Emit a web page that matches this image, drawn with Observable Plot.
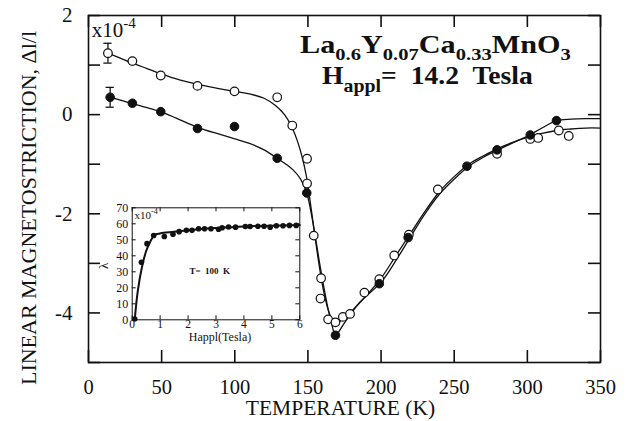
<!DOCTYPE html>
<html><head><meta charset="utf-8">
<script src="https://cdn.jsdelivr.net/npm/d3@7"></script>
<script src="https://cdn.jsdelivr.net/npm/@observablehq/plot@0.6"></script>
<style>
body{margin:0;background:#fff}
#wrap{position:relative;width:629px;height:421px;overflow:hidden}
#wrap svg{font-family:"Liberation Serif","Times New Roman",serif}
#insetbox{position:absolute;left:95px;top:197px}
</style></head><body><div id="wrap"><div id="insetbox"></div></div>
<script>
// ---------- data ----------
const xTicks = [0, 50, 100, 150, 200, 250, 300, 350];
const yTicks = [-5, -4, -3, -2, -1, 0, 1, 2];
const yLabels = [-4, -2, 0, 2];

const openT = [13.3, 30, 49.4, 74.5, 99.8, 129, 139.3, 149.4, 149.4, 154, 159, 158.6, 163.8, 168.8, 173.9, 178.8, 188.6, 198.8, 209, 219, 238.8, 279.3, 302, 307.4, 321.5, 328.3];
const openV = [1.24, 1.08, 0.79, 0.58, 0.47, 0.35, -0.22, -0.89, -1.39, -2.44, -3.30, -3.71, -4.13, -4.19, -4.08, -4.02, -3.59, -3.32, -2.84, -2.42, -1.51, -0.79, -0.49, -0.47, -0.32, -0.43];

const filledT = [14.8, 30, 49.4, 74.5, 99.8, 129, 149.2, 168.8, 198.8, 218.5, 258.7, 279.3, 302, 319.9];
const filledV = [0.35, 0.23, 0.06, -0.28, -0.24, -0.88, -1.58, -4.45, -3.41, -2.48, -1.04, -0.71, -0.41, -0.12];

const openCurveT = [13.3, 20, 30, 40, 50, 60, 75, 90, 100, 110, 120, 128, 134, 139, 143, 146, 149, 152, 155, 158, 161, 164, 167, 170, 175, 182, 190, 200, 210, 220, 230, 240, 250, 260, 270, 280, 290, 300, 310, 320, 330, 340, 350];
const openCurveV = [1.24, 1.16, 1.04, 0.93, 0.82, 0.72, 0.61, 0.52, 0.47, 0.42, 0.33, 0.18, 0.0, -0.25, -0.55, -0.85, -1.25, -1.85, -2.5, -3.1, -3.6, -3.95, -4.15, -4.2, -4.1, -3.9, -3.65, -3.3, -2.85, -2.4, -1.95, -1.55, -1.25, -1.0, -0.83, -0.68, -0.56, -0.46, -0.38, -0.32, -0.29, -0.27, -0.27];

const filledCurveT = [14.8, 20, 30, 40, 50, 60, 75, 90, 100, 110, 120, 129, 135, 140, 145, 149.2, 152, 155, 158, 161, 164, 166.5, 168.8, 175, 185, 200, 210, 220, 230, 240, 250, 260, 270, 280, 290, 300, 310, 320, 330, 340, 350];
const filledCurveV = [0.35, 0.31, 0.22, 0.14, 0.05, -0.07, -0.26, -0.4, -0.49, -0.58, -0.71, -0.88, -1.0, -1.12, -1.3, -1.58, -1.95, -2.45, -3.0, -3.5, -3.95, -4.25, -4.45, -4.2, -3.8, -3.38, -2.95, -2.47, -2.0, -1.6, -1.3, -1.04, -0.86, -0.71, -0.57, -0.43, -0.27, -0.12, -0.09, -0.08, -0.08];

const errT = [13.3, 14.8];
const errV = [1.24, 0.35];
const errE = [0.2, 0.2];

// inset: lambda vs applied field at T = 100 K
const insetXTicks = [0, 1, 2, 3, 4, 5, 6];
const insetYTicks = [0, 10, 20, 30, 40, 50, 60, 70];
const insetH = [0.09, 0.33, 0.53, 0.77, 1.15, 1.46, 1.68, 1.94, 2.14, 2.38, 2.59, 2.82, 3.09, 3.22, 3.45, 3.70, 4.05, 4.22, 4.50, 4.72, 4.94, 5.16, 5.40, 5.63, 5.87];
const insetL = [0.5, 36, 47.6, 52.7, 52.1, 53.5, 55.1, 55.9, 55.9, 56.9, 56.9, 56.9, 56.6, 57.5, 58.0, 57.9, 58.3, 58.3, 58.5, 58.5, 57.9, 58.8, 58.8, 59.0, 59.0];
const insetCurveH = [0.09, 0.2, 0.35, 0.5, 0.65, 0.8, 1.0, 1.5, 2.0, 3.0, 4.0, 5.0, 6.0];
const insetCurveL = [0, 18, 33, 43, 49, 53, 54, 55, 56, 57.3, 58.3, 58.8, 59.3];

// ---------- build tables ----------
const zip = (a, b) => a.map((v, i) => ({x: v, y: b[i]}));
const openPts = zip(openT, openV), filledPts = zip(filledT, filledV);
const openCurve = zip(openCurveT, openCurveV), filledCurve = zip(filledCurveT, filledCurveV);
const errs = errT.map((t, i) => ({x: t, lo: errV[i] - errE[i], hi: errV[i] + errE[i]}));
const insetPts = zip(insetH, insetL), insetCurve = zip(insetCurveH, insetCurveL);
const hy = d => d < 0 ? "-" + (-d) : String(d);

const W = 629, H = 421, ML = 88, MR = 29, MT = 15, MB = 59;
const FW = W - ML - MR, FH = H - MT - MB, TK = 12;

const main = Plot.plot({
  width: W, height: H,
  marginTop: MT, marginLeft: ML, marginRight: MR, marginBottom: MB,
  x: {domain: [0, 350], axis: null},
  y: {domain: [-5, 2], axis: null},
  style: {fontFamily: "Liberation Serif, serif", fontSize: "21px", color: "#111", background: "white"},
  marks: [
    Plot.frame({stroke: "#111", strokeWidth: 1.6}),
    Plot.tickX(xTicks, {x: d => d, insetTop: FH - TK, stroke: "#111", strokeWidth: 1.6}),
    Plot.tickX(xTicks, {x: d => d, insetBottom: FH - TK, stroke: "#111", strokeWidth: 1.6}),
    Plot.tickY(yTicks, {y: d => d, insetRight: FW - TK, stroke: "#111", strokeWidth: 1.6}),
    Plot.tickY(yTicks, {y: d => d, insetLeft: FW - TK, stroke: "#111", strokeWidth: 1.6}),
    Plot.text(xTicks, {x: d => d, frameAnchor: "bottom", lineAnchor: "top", dy: 17, text: d => String(d), fontSize: 20.5, fill: "#111"}),
    Plot.text(yLabels, {y: d => d, frameAnchor: "left", textAnchor: "end", dx: -16, text: hy, fontSize: 21, fill: "#111"}),
    Plot.line(openCurve, {x: "x", y: "y", curve: "catmull-rom", stroke: "#111", strokeWidth: 1.3}),
    Plot.line(filledCurve, {x: "x", y: "y", curve: "catmull-rom", stroke: "#111", strokeWidth: 1.3}),
    Plot.ruleX(errs, {x: "x", y1: "lo", y2: "hi", stroke: "#111", strokeWidth: 1.3}),
    Plot.ruleY(errs, {y: "lo", x1: d => d.x - 2.8, x2: d => d.x + 2.8, stroke: "#111", strokeWidth: 1.3}),
    Plot.ruleY(errs, {y: "hi", x1: d => d.x - 2.8, x2: d => d.x + 2.8, stroke: "#111", strokeWidth: 1.3}),
    Plot.dot(openPts, {x: "x", y: "y", r: 4.3, fill: "white", stroke: "#111", strokeWidth: 1.2}),
    Plot.dot(filledPts, {x: "x", y: "y", r: 4.3, fill: "#111", stroke: "#111", strokeWidth: 1}),
    Plot.text(["TEMPERATURE (K)"], {frameAnchor: "bottom", lineAnchor: "middle", textAnchor: "middle", dy: 46, dx: -4, fontSize: 21.5, fill: "#111"}),
    Plot.text(["LINEAR MAGNETOSTRICTION, \u0394l/l"], {frameAnchor: "left", lineAnchor: "middle", textAnchor: "middle", rotate: -90, dx: -60, dy: 19, fontSize: 22, fill: "#111"})
  ]
});
document.getElementById("wrap").prepend(main);

// rich-text annotations (sub/superscripts) positioned through the plot's scales
function rich(target, parts, cx, by, big, small, shift, anchor, weight, width) {
  const t = target.append("text")
    .attr("font-family", "Liberation Serif, serif")
    .attr("font-weight", weight).attr("fill", "#111")
    .attr("text-anchor", anchor)
    .style("white-space", "pre");
  let cur = 0;
  for (const [s, kind] of parts) {
    const want = kind === 0 ? 0 : kind * shift;
    t.append("tspan").attr("font-size", kind === 0 ? big : small).attr("dy", want - cur).text(s);
    cur = want;
  }
  let k = 1;
  if (width) { const len = t.node().getComputedTextLength(); if (len > 0) k = width / len; }
  t.attr("transform", `translate(${cx},${by}) scale(${k},1)`);
  return t;
}
const sx = main.scale("x"), sy = main.scale("y");
const svg = d3.select(main);
const line1 = [["La",0],["0.6",1],["Y",0],["0.07",1],["Ca",0],["0.33",1],["MnO",0],["3",1]];
const line2 = [["H",0],["appl",1],["=  14.2  Tesla",0]];
rich(svg, line1, sx.apply(237.5), sy.apply(1.23), 25, 17, 7, "middle", "bold", 271);
rich(svg, line2, sx.apply(232), sy.apply(0.61), 25, 18, 8, "middle", "bold", 211);
rich(svg, [["x10",0],["-4",-1]], sx.apply(2.5), sy.apply(1.55), 21, 15, 9, "start", "normal", 0);

// ---------- inset ----------
const IW = 210, IH = 152, IML = 36.7, IMR = 5.7, IMT = 10.3, IMB = 29.7;
const IFW = IW - IML - IMR, IFH = IH - IMT - IMB, ITK = 4;
const inset = Plot.plot({
  width: IW, height: IH,
  marginLeft: IML, marginRight: IMR, marginTop: IMT, marginBottom: IMB,
  x: {domain: [0, 6], axis: null},
  y: {domain: [0, 70], axis: null},
  style: {fontFamily: "Liberation Serif, serif", fontSize: "11px", color: "#111", background: "transparent"},
  marks: [
    Plot.frame({stroke: "#111", strokeWidth: 1}),
    Plot.tickX(insetXTicks, {x: d => d, insetTop: IFH - ITK, stroke: "#111"}),
    Plot.tickX(insetXTicks, {x: d => d, insetBottom: IFH - ITK, stroke: "#111"}),
    Plot.tickY(insetYTicks, {y: d => d, insetRight: IFW - ITK, stroke: "#111"}),
    Plot.tickY(insetYTicks, {y: d => d, insetLeft: IFW - ITK, stroke: "#111"}),
    Plot.text(insetXTicks, {x: d => d, frameAnchor: "bottom", lineAnchor: "top", dy: 0, text: d => String(d), fontSize: 11.5, fill: "#111"}),
    Plot.text(insetYTicks, {y: d => d, frameAnchor: "left", textAnchor: "end", dx: -4, text: d => String(d), fontSize: 12, fill: "#111"}),
    Plot.line(insetCurve, {x: "x", y: "y", curve: "catmull-rom", stroke: "#111", strokeWidth: 2}),
    Plot.dot(insetPts, {x: "x", y: "y", r: 2.8, fill: "#111"}),
    Plot.text(["T=  100  K"], {x: [2.05], y: [30.2], textAnchor: "start", fontSize: 9, fontWeight: "bold", fill: "#111"}),
    Plot.text(["Happl(Tesla)"], {frameAnchor: "bottom", lineAnchor: "middle", textAnchor: "middle", dy: 17, dx: 4, fontSize: 12, fill: "#111"}),
    Plot.text(["\u03bb"], {frameAnchor: "left", lineAnchor: "middle", textAnchor: "middle", rotate: -90, dx: -28, dy: 2, fontSize: 13, fill: "#111"})
  ]
});
document.getElementById("insetbox").append(inset);
const ix = inset.scale("x"), iy = inset.scale("y");
const isvg = d3.select(inset);
isvg.selectAll("text").style("white-space", "pre");
rich(isvg, [["x10",0],["-4",-1]], ix.apply(0.1), iy.apply(62.5), 11, 8, 5, "start", "normal", 0);
</script>
</body></html>
